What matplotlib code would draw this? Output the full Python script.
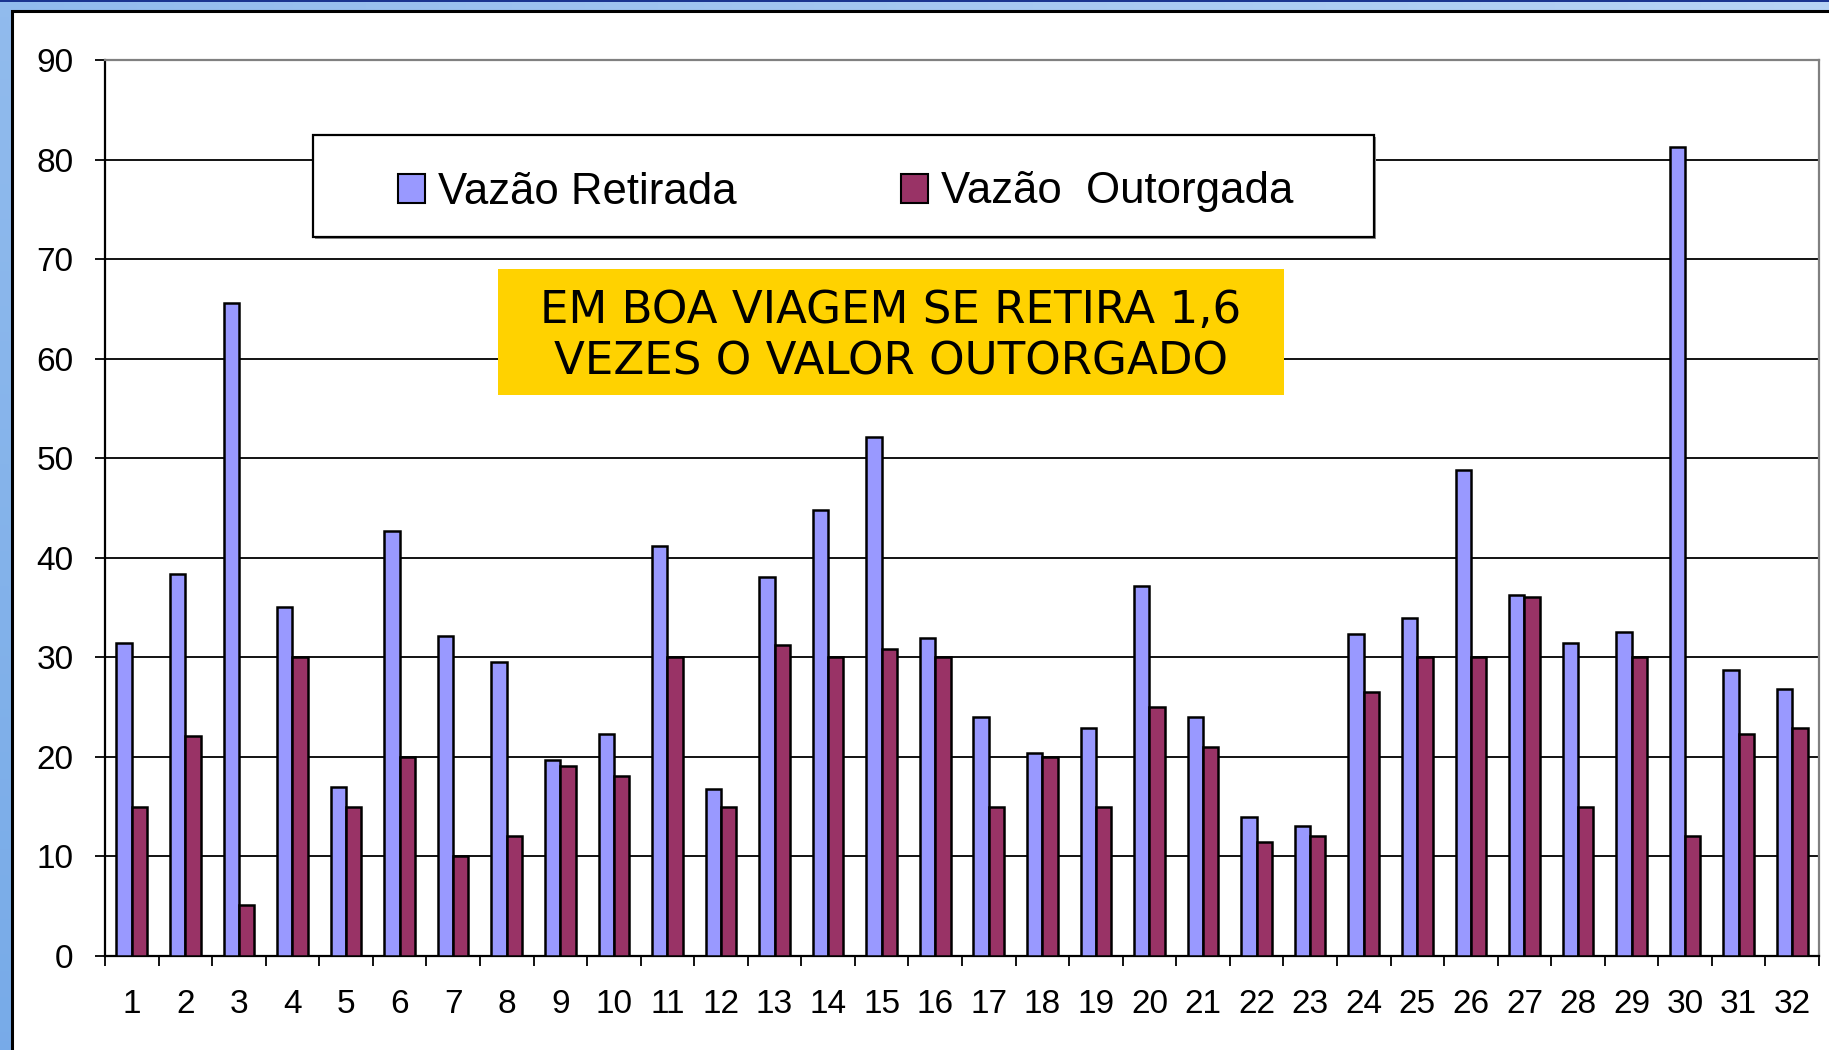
import numpy as np
import matplotlib
matplotlib.use("Agg")
import matplotlib.pyplot as plt
from matplotlib.patches import Rectangle, Patch

# Data
categories = [str(i) for i in range(1, 33)]
vazao_retirada = [31.4, 38.4, 65.6, 35.1, 17.0, 42.7, 32.1, 29.5, 19.7, 22.3,
                  41.2, 16.8, 38.1, 44.8, 52.1, 31.9, 24.0, 20.4, 22.9, 37.2,
                  24.0, 14.0, 13.1, 32.3, 34.0, 48.8, 36.3, 31.4, 32.5, 81.3,
                  28.7, 26.8]
vazao_outorgada = [15.0, 22.1, 5.1, 30.0, 15.0, 20.0, 10.0, 12.1, 19.1, 18.1,
                   30.0, 15.0, 31.2, 30.0, 30.8, 30.0, 15.0, 20.0, 15.0, 25.0,
                   21.0, 11.5, 12.1, 26.5, 30.0, 30.0, 36.1, 15.0, 30.0, 12.1,
                   22.3, 22.9]
yticks = list(range(0, 91, 10))
series_labels = ["Vazão Retirada", "Vazão  Outorgada"]
note_lines = ["EM BOA VIAGEM SE RETIRA 1,6", "VEZES O VALOR OUTORGADO"]

W, H = 1829, 1050
DPI = 100
plt.rcParams['font.family'] = ['Liberation Sans', 'DejaVu Sans']

fig = plt.figure(figsize=(W / DPI, H / DPI), dpi=DPI)

def fx(px):
    return px / W

def fy(py):
    return 1 - py / H

# Slide background: blue gradient with a white panel on top
bg = fig.add_axes([0, 0, 1, 1], zorder=-10)
gx = np.linspace(0, 1, 200)
gy = np.linspace(0, 1, 120)
GX, GY = np.meshgrid(gx, gy)
c0 = np.array([0.47, 0.67, 0.91])
c1 = np.array([0.72, 0.83, 0.96])
t = np.clip(0.6 * GX + 0.4 * (1 - GY), 0, 1)[..., None]
img = c0 * (1 - t) + c1 * t
bg.imshow(img, extent=[0, 1, 0, 1], aspect='auto', origin='upper')
bg.set_xlim(0, 1)
bg.set_ylim(0, 1)
bg.axis('off')
bg.add_patch(Rectangle((0, 1 - 2 / H), 1, 2 / H, color='#1a3490', lw=0))
bg.add_patch(Rectangle((fx(12), -0.05), 1.2, fy(11) + 0.05,
                       facecolor='white', edgecolor='black', lw=2.2))

# Chart axes
ax = fig.add_axes([fx(105), fy(956), fx(1819) - fx(105), fy(60) - fy(956)])
ax.set_facecolor('none')

n = len(categories)
x = np.arange(n) + 0.5
bw = 1 / 3.5
blue = '#9999FF'
purple = '#993366'
ax.bar(x - bw / 2, vazao_retirada, width=bw, color=blue, edgecolor='black',
       linewidth=1.8, zorder=3)
ax.bar(x + bw / 2, vazao_outorgada, width=bw, color=purple, edgecolor='black',
       linewidth=1.8, zorder=3)

ax.set_xlim(0, n)
ax.set_ylim(0, 90)
ax.set_yticks(yticks)
ax.set_yticklabels([str(v) for v in yticks])
ax.yaxis.grid(True, color='black', linewidth=1.3)
ax.set_axisbelow(True)

ax.set_xticks(np.arange(0, n + 1))
ax.set_xticklabels([])
ax.set_xticks(x, minor=True)
ax.set_xticklabels(categories, minor=True)
ax.tick_params(axis='x', which='major', direction='out', length=7.2, width=1.3)
ax.tick_params(axis='x', which='minor', length=0, pad=24, labelsize=24)
ax.tick_params(axis='y', direction='out', length=7.2, width=1.3, pad=15.5,
               labelsize=24)

for side in ('left', 'bottom'):
    ax.spines[side].set_color('black')
    ax.spines[side].set_linewidth(1.6)
for side in ('top', 'right'):
    ax.spines[side].set_color('#808080')
    ax.spines[side].set_linewidth(1.6)

# Legend box
fig.patches.append(Rectangle((fx(315), fy(239)), fx(1376) - fx(315), fy(137) - fy(239),
                             transform=fig.transFigure, facecolor='#909090',
                             edgecolor='none', zorder=4))
fig.patches.append(Rectangle((fx(313), fy(237)), fx(1374) - fx(313), fy(135) - fy(237),
                             transform=fig.transFigure, facecolor='white',
                             edgecolor='black', lw=1.6, zorder=5))
handles = [Patch(facecolor=blue, edgecolor='black', lw=1.5),
           Patch(facecolor=purple, edgecolor='black', lw=1.5)]
leg = fig.legend(handles, series_labels, loc='center left',
                 bbox_to_anchor=(fx(398), fy(192)), bbox_transform=fig.transFigure,
                 ncol=2, frameon=False, fontsize=31.5, borderpad=0, borderaxespad=0,
                 handlelength=0.62, handleheight=0.64, handletextpad=0.3,
                 columnspacing=3.75)
leg.set_zorder(6)

# Highlighted note
fig.patches.append(Rectangle((fx(498), fy(395)), fx(1284) - fx(498), fy(269) - fy(395),
                             transform=fig.transFigure, facecolor='#FFD200',
                             edgecolor='none', zorder=5))
fig.text(fx(891), fy(310), note_lines[0], ha='center', va='center',
         fontsize=32.5, family=['DejaVu Sans'], zorder=6)
fig.text(fx(891), fy(362), note_lines[1], ha='center', va='center',
         fontsize=32.5, family=['DejaVu Sans'], zorder=6)

fig.savefig('out.png', dpi=DPI)
